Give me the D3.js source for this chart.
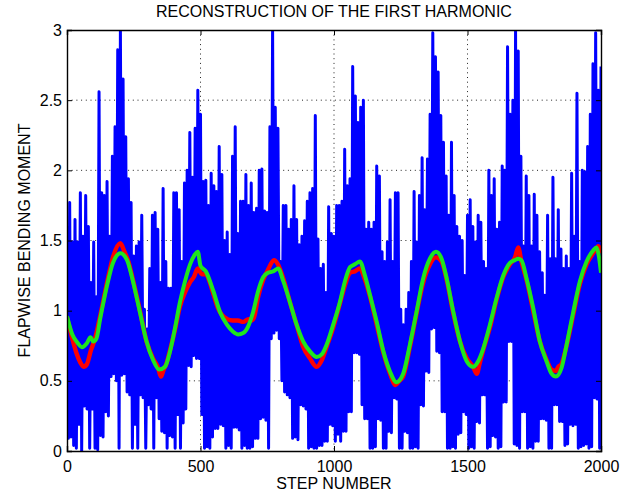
<!DOCTYPE html>
<html>
<head>
<meta charset="utf-8">
<script src="https://cdn.jsdelivr.net/npm/d3@7"></script>
<style>
  body { margin: 0; background: #fff; }
  svg { display: block; }
  text { font-family: "Liberation Sans", Arial, Helvetica, sans-serif; fill: #000; }
</style>
</head>
<body>
<svg id="chart" width="632" height="495"></svg>
<script>
// reconstruction of the first harmonic - blue raw, red / green reconstructions

var xTicks = [0, 500, 1000, 1500, 2000];
var yTicks = [0, 0.5, 1, 1.5, 2, 2.5, 3];

// raw signal, read as column peaks (every 10 steps) and troughs (in between)
var blueStep = 10;
var blueHigh = [1.30, 1.77, 1.49, 1.65, 1.49, 1.84, 1.53, 1.82, 1.60, 1.20,
  1.49, 1.10, 2.56, 1.84, 1.82, 1.92, 1.53, 2.10, 2.31, 2.86,
  3.00, 2.65, 2.24, 1.94, 1.77, 1.39, 1.46, 1.49, 1.68, 1.01,
  0.87, 1.30, 1.68, 1.70, 1.58, 1.20, 1.87, 1.35, 1.16, 1.16,
  1.84, 1.84, 1.72, 1.35, 1.91, 2.00, 2.27, 1.95, 2.30, 2.57,
  2.40, 1.92, 1.93, 1.75, 1.98, 1.89, 1.85, 2.17, 1.97, 1.50,
  1.56, 1.40, 2.10, 2.31, 1.55, 1.78, 1.78, 1.97, 1.75, 1.91,
  1.70, 1.73, 2.00, 2.01, 1.71, 1.70, 2.31, 3.00, 2.45, 2.30,
  1.35, 1.75, 1.75, 1.58, 1.65, 1.89, 1.65, 1.47, 1.53, 1.64,
  1.78, 1.84, 1.87, 2.39, 1.51, 1.30, 1.33, 1.13, 1.74, 1.55,
  1.53, 1.75, 1.75, 1.78, 2.15, 1.89, 1.94, 2.74, 2.53, 2.34,
  2.45, 2.50, 1.58, 1.63, 1.58, 1.63, 2.03, 1.96, 1.42, 1.35,
  1.49, 1.79, 1.35, 1.84, 1.84, 1.01, 0.90, 1.01, 1.13, 1.35,
  1.85, 1.49, 1.82, 2.09, 1.72, 2.08, 2.40, 2.98, 2.81, 2.70,
  2.39, 2.20, 1.96, 1.68, 2.20, 1.82, 1.60, 1.53, 1.50, 1.25,
  1.68, 1.79, 1.60, 1.49, 1.68, 1.63, 1.35, 1.30, 2.00, 1.82,
  1.94, 1.58, 1.63, 2.03, 2.00, 2.88, 2.40, 2.50, 3.00, 2.85,
  2.10, 1.46, 1.96, 1.82, 1.46, 1.83, 1.68, 1.42, 1.27, 1.11,
  1.68, 1.37, 1.95, 1.37, 1.72, 1.44, 1.30, 1.39, 1.30, 1.98,
  1.53, 2.55, 1.35, 2.00, 1.99, 2.17, 2.40, 2.76, 2.98, 2.57,
  2.74];
var blueLow = [0.09, 0.10, 0.04, 0.02, 0.19, 0.00, 0.32, 0.30, 0.02, 0.30,
  0.02, 0.01, 0.11, 0.10, 0.28, 0.25, 0.53, 0.55, 0.50, 0.02,
  0.54, 0.55, 0.42, 0.40, 0.02, 0.19, 0.02, 0.40, 0.38, 0.02,
  0.33, 0.30, 0.02, 0.38, 0.23, 0.14, 0.13, 0.02, 0.11, 0.10,
  0.02, 0.26, 0.02, 0.20, 0.30, 0.61, 0.60, 0.68, 0.66, 0.66,
  0.26, 0.02, 0.03, 0.02, 0.10, 0.16, 0.16, 0.19, 0.18, 0.02,
  0.04, 0.02, 0.17, 0.17, 0.15, 0.02, 0.04, 0.02, 0.02, 0.03,
  0.09, 0.09, 0.23, 0.24, 0.22, 0.02, 0.80, 0.84, 0.86, 0.80,
  0.50, 0.42, 0.40, 0.38, 0.09, 0.10, 0.08, 0.33, 0.32, 0.30,
  0.02, 0.03, 0.02, 0.02, 0.04, 0.04, 0.07, 0.07, 0.19, 0.18,
  0.07, 0.12, 0.07, 0.14, 0.14, 0.28, 0.28, 0.70, 0.70, 0.69,
  0.33, 0.23, 0.23, 0.02, 0.02, 0.03, 0.23, 0.22, 0.02, 0.02,
  0.14, 0.13, 0.38, 0.37, 0.02, 0.02, 0.14, 0.13, 0.02, 0.02,
  0.03, 0.02, 0.33, 0.32, 0.57, 0.56, 0.87, 0.88, 0.71, 0.70,
  0.28, 0.28, 0.02, 0.02, 0.03, 0.02, 0.12, 0.13, 0.28, 0.26,
  0.02, 0.03, 0.02, 0.21, 0.20, 0.40, 0.40, 0.02, 0.03, 0.11,
  0.10, 0.02, 0.03, 0.35, 0.35, 0.78, 0.78, 0.05, 0.04, 0.02,
  0.28, 0.28, 0.02, 0.03, 0.02, 0.07, 0.07, 0.23, 0.23, 0.22,
  0.02, 0.02, 0.33, 0.33, 0.21, 0.21, 0.04, 0.05, 0.19, 0.18,
  0.19, 0.02, 0.03, 0.04, 0.05, 0.02, 0.03, 0.38, 0.37, 0.02];

// red reconstruction (slightly ragged)
var redSteps = [0, 20, 35, 50, 62, 75, 90, 105, 125, 150, 172, 200, 215, 230, 247, 273, 298, 322, 340, 352,
  362, 372, 386, 404, 423, 442, 460, 475, 490, 505, 520, 535, 548, 565, 580, 600, 620, 640, 660, 680,
  690, 700, 716, 735, 755, 775, 790, 810, 835, 860, 885, 910, 935, 955, 972, 997, 1022, 1041, 1060, 1078,
  1097, 1116, 1135, 1160, 1185, 1210, 1230, 1245, 1259, 1284, 1309, 1334, 1359, 1382, 1403, 1422, 1447, 1472, 1497, 1521,
  1535, 1545, 1559, 1584, 1609, 1634, 1659, 1678, 1690, 1702, 1721, 1746, 1771, 1796, 1815, 1831, 1840, 1852, 1871, 1896,
  1921, 1946, 1971, 1990, 2000];
var redVals = [0.95, 0.80, 0.70, 0.63, 0.60, 0.62, 0.72, 0.80, 0.97, 1.20, 1.38, 1.48, 1.42, 1.35, 1.22, 1.00, 0.78, 0.66, 0.60, 0.53,
  0.58, 0.62, 0.72, 0.86, 1.03, 1.13, 1.20, 1.24, 1.30, 1.26, 1.26, 1.20, 1.12, 1.02, 0.97, 0.94, 0.93, 0.93, 0.92, 0.94,
  0.93, 0.95, 1.10, 1.22, 1.30, 1.36, 1.33, 1.23, 1.06, 0.90, 0.74, 0.66, 0.60, 0.65, 0.74, 0.88, 1.05, 1.18, 1.27, 1.28,
  1.30, 1.22, 1.10, 0.90, 0.70, 0.55, 0.47, 0.50, 0.53, 0.74, 0.98, 1.20, 1.33, 1.38, 1.35, 1.22, 0.98, 0.78, 0.66, 0.60,
  0.55, 0.62, 0.72, 0.88, 1.08, 1.24, 1.33, 1.38, 1.45, 1.35, 1.22, 1.00, 0.78, 0.65, 0.58, 0.57, 0.60, 0.62, 0.75, 0.97,
  1.19, 1.33, 1.41, 1.46, 1.41];

// green reconstruction
var greenSteps = [0, 20, 40, 56, 75, 88, 98, 110, 125, 150, 172, 200, 225, 247, 273, 298, 322, 345, 367, 386,
  404, 423, 442, 461, 479, 490, 500, 520, 548, 573, 599, 622, 641, 660, 679, 697, 716, 735, 753, 772,
  791, 810, 835, 860, 885, 910, 935, 955, 972, 997, 1022, 1041, 1060, 1078, 1097, 1116, 1135, 1160, 1185, 1210,
  1234, 1259, 1284, 1309, 1334, 1359, 1382, 1403, 1422, 1447, 1472, 1497, 1521, 1540, 1559, 1584, 1609, 1634, 1659, 1678,
  1690, 1702, 1721, 1746, 1771, 1796, 1815, 1831, 1852, 1871, 1896, 1921, 1946, 1971, 1983, 1991, 2000];
var greenVals = [0.96, 0.83, 0.77, 0.74, 0.77, 0.81, 0.78, 0.80, 0.95, 1.18, 1.34, 1.41, 1.36, 1.21, 0.99, 0.78, 0.65, 0.58, 0.60, 0.71,
  0.87, 1.06, 1.21, 1.33, 1.40, 1.42, 1.32, 1.28, 1.14, 0.99, 0.90, 0.85, 0.83, 0.84, 0.89, 0.99, 1.14, 1.24, 1.27, 1.28,
  1.30, 1.21, 1.06, 0.90, 0.78, 0.71, 0.67, 0.69, 0.755, 0.90, 1.06, 1.21, 1.31, 1.33, 1.35, 1.25, 1.11, 0.92, 0.71, 0.565,
  0.49, 0.55, 0.755, 0.99, 1.23, 1.37, 1.42, 1.37, 1.23, 0.99, 0.78, 0.64, 0.60, 0.64, 0.73, 0.90, 1.09, 1.25, 1.34, 1.36,
  1.37, 1.36, 1.23, 1.02, 0.78, 0.64, 0.55, 0.53, 0.59, 0.755, 0.99, 1.21, 1.35, 1.43, 1.45, 1.40, 1.27];

var width = 632, height = 495;
var margin = {top: 30, right: 31, bottom: 44, left: 67};
var plotW = width - margin.left - margin.right;
var plotH = height - margin.top - margin.bottom;
var fontSize = "16px";

var svg = d3.select("#chart");

var x = d3.scaleLinear().domain([0, 2000]).range([0, plotW]);
var y = d3.scaleLinear().domain([0, 3]).range([plotH, 0]);

var g = svg.append("g")
    .attr("transform", "translate(" + margin.left + "," + margin.top + ")");

g.append("clipPath")
    .attr("id", "clip")
    .append("rect")
    .attr("width", plotW)
    .attr("height", plotH);

// dotted grid
g.selectAll(".gx")
    .data(xTicks.slice(1, -1))
    .enter().append("line")
    .attr("x1", d => x(d)).attr("x2", d => x(d))
    .attr("y1", 0).attr("y2", plotH)
    .attr("stroke", "#222").attr("stroke-width", 1)
    .attr("stroke-dasharray", "1,3.7");

g.selectAll(".gy")
    .data(yTicks.slice(1, -1))
    .enter().append("line")
    .attr("y1", d => y(d)).attr("y2", d => y(d))
    .attr("x1", 0).attr("x2", plotW)
    .attr("stroke", "#222").attr("stroke-width", 1)
    .attr("stroke-dasharray", "1,3.7");

// raw signal as peak/trough zigzag
var bluePts = [];
blueHigh.forEach(function (v, i) {
    bluePts.push([i * blueStep, v]);
    if (i < blueLow.length) bluePts.push([i * blueStep + blueStep / 2, blueLow[i]]);
});

var line = d3.line()
    .x(d => x(d[0]))
    .y(d => y(d[1]));

var plot = g.append("g").attr("clip-path", "url(#clip)");

plot.append("path")
    .datum(bluePts)
    .attr("d", line)
    .attr("fill", "none")
    .attr("stroke", "#0000ff")
    .attr("stroke-width", 3)
    .attr("stroke-linejoin", "round");

var smooth = d3.line()
    .x(d => x(d[0]))
    .y(d => y(d[1]))
    .curve(d3.curveMonotoneX);

plot.append("path")
    .datum(d3.zip(redSteps, redVals))
    .attr("d", smooth)
    .attr("fill", "none")
    .attr("stroke", "#ff0000")
    .attr("stroke-width", 4.4)
    .attr("stroke-linejoin", "round");

plot.append("path")
    .datum(d3.zip(greenSteps, greenVals))
    .attr("d", smooth)
    .attr("fill", "none")
    .attr("stroke", "#1ee61e")
    .attr("stroke-width", 4)
    .attr("stroke-linejoin", "round");

// axes, ticks inside like matlab
var fmt = d3.format("~g");

var xAxis = g.append("g")
    .attr("transform", "translate(0," + plotH + ")")
    .call(d3.axisBottom(x).tickValues(xTicks).tickSize(-5).tickPadding(10).tickFormat(fmt));
var yAxis = g.append("g")
    .call(d3.axisLeft(y).tickValues(yTicks).tickSize(-5).tickPadding(5).tickFormat(fmt));
var xTop = g.append("g")
    .call(d3.axisTop(x).tickValues(xTicks).tickSize(-5).tickFormat(""));
var yRight = g.append("g")
    .attr("transform", "translate(" + plotW + ",0)")
    .call(d3.axisRight(y).tickValues(yTicks).tickSize(-5).tickFormat(""));

[xAxis, yAxis, xTop, yRight].forEach(function (a) {
    a.selectAll(".domain").attr("stroke", "#000").attr("stroke-width", 1.4);
    a.selectAll(".tick line").attr("stroke", "#000");
    a.selectAll("text")
        .style("font-family", "'Liberation Sans', Arial, Helvetica, sans-serif")
        .style("font-size", fontSize);
});

svg.append("text")
    .attr("x", margin.left + plotW / 2)
    .attr("y", 17)
    .attr("text-anchor", "middle")
    .style("font-size", fontSize)
    .text("RECONSTRUCTION OF THE FIRST HARMONIC");

svg.append("text")
    .attr("x", margin.left + plotW / 2)
    .attr("y", 489)
    .attr("text-anchor", "middle")
    .style("font-size", fontSize)
    .text("STEP NUMBER");

svg.append("text")
    .attr("transform", "translate(30," + (margin.top + plotH / 2) + ") rotate(-90)")
    .attr("text-anchor", "middle")
    .style("font-size", fontSize)
    .text("FLAPWISE BENDING MOMENT");
</script>
</body>
</html>
